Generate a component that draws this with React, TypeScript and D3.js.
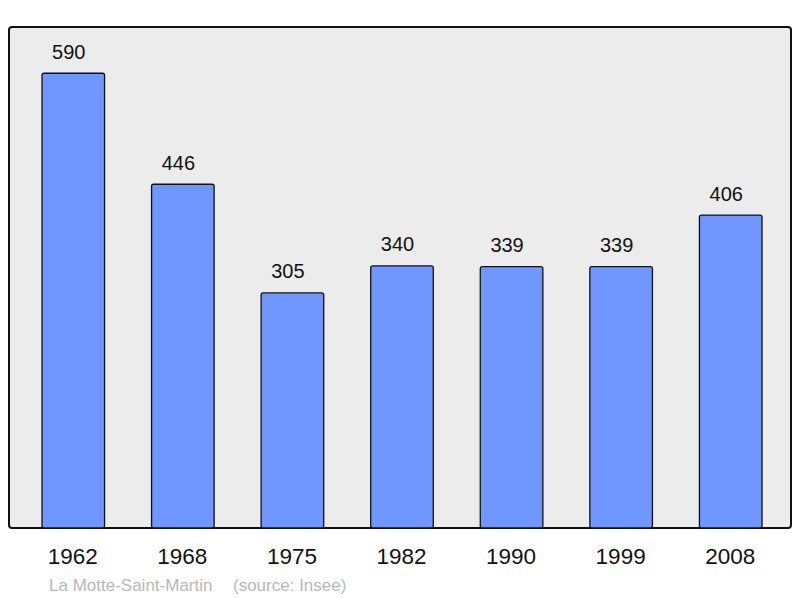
import React from "react";
import * as d3 from "d3";

const years = ["1962", "1968", "1975", "1982", "1990", "1999", "2008"];
const population = [590, 446, 305, 340, 339, 339, 406];
const commune = "La Motte-Saint-Martin";
const source = "(source: Insee)";

export default function App() {
  const W = 800;
  const H = 598;
  const frame = { x: 9, y: 27, w: 782, h: 501 };
  const x = d3
    .scaleBand<string>()
    .domain(years)
    .range([42, 762])
    .paddingInner(0.429)
    .paddingOuter(0);
  const y = d3.scaleLinear().domain([0, 650]).range([528, 27]);
  const font = "'Liberation Sans', Arial, sans-serif";

  return (
    <svg
      width={W}
      height={H}
      style={{ position: "absolute", left: 0, top: 0 }}
      fontFamily={font}
    >
      <rect width={W} height={H} fill="#ffffff" />
      <rect
        x={frame.x}
        y={frame.y}
        width={frame.w}
        height={frame.h}
        rx={3}
        fill="#ececec"
        stroke="#111"
        strokeWidth={2}
      />
      {years.map((yr, i) => {
        const bx = x(yr) as number;
        const top = y(population[i]);
        return (
          <g key={yr}>
            <rect
              x={bx}
              y={top}
              width={x.bandwidth()}
              height={y(0) - top}
              rx={2}
              fill="#7096ff"
              stroke="#111"
              strokeWidth={1.3}
            />
            <text
              x={bx + x.bandwidth() / 2 - 4.5}
              y={top - 14.5}
              textAnchor="middle"
              fontSize={20}
              fill="#111"
            >
              {population[i]}
            </text>
            <text
              x={bx + x.bandwidth() / 2 - 0.5}
              y={563.5}
              textAnchor="middle"
              fontSize={22.5}
              fill="#111"
            >
              {yr}
            </text>
          </g>
        );
      })}
      <text x={49} y={590.5} fontSize={17} fill="#b8b8b8">
        {commune}
      </text>
      <text x={233} y={590.5} fontSize={17} fill="#b8b8b8">
        {source}
      </text>
    </svg>
  );
}
